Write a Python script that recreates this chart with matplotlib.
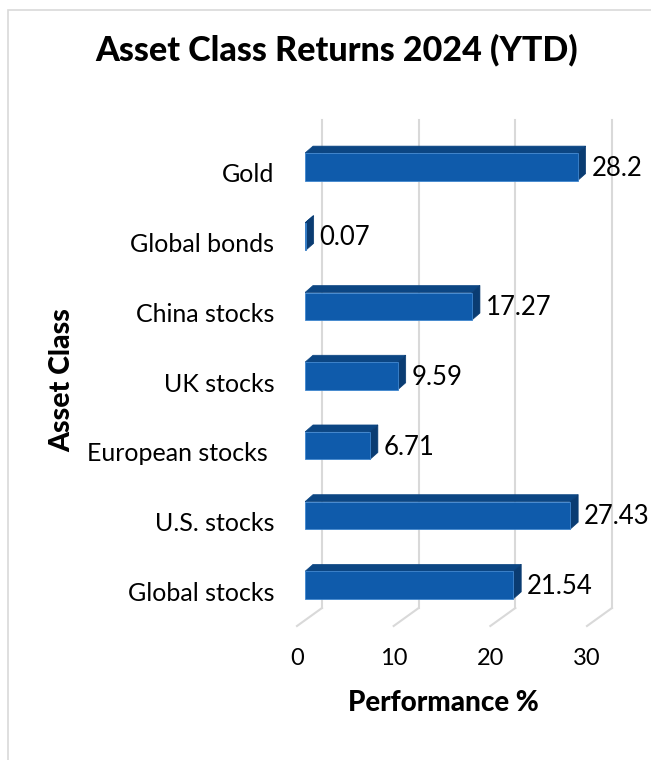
import matplotlib
matplotlib.use("Agg")
import matplotlib.pyplot as plt
from matplotlib import transforms
from matplotlib.patches import Rectangle, Polygon

plt.rcParams['font.family'] = ['Lato', 'DejaVu Sans']

categories = ["Global stocks", "U.S. stocks", "European stocks ", "UK stocks",
              "China stocks", "Global bonds", "Gold"]
returns = [21.54, 27.43, 6.71, 9.59, 17.27, 0.07, 28.2]
value_labels = ["21.54", "27.43", "6.71", "9.59", "17.27", "0.07", "28.2"]
x_ticks = [0, 10, 20, 30]

FRONT = "#0f5bab"
TOP = "#0c4683"
SIDE = "#0a3c72"
GRID = "#d9d9d9"

fig = plt.figure(figsize=(6.51, 7.60), dpi=100)
ax = fig.add_axes([305 / 651, 140 / 760, 290 / 651, 488 / 760])
ax.set_xlim(0, 30)
ax.set_ylim(-0.5, 6.5)
for s in ax.spines.values():
    s.set_visible(False)

# outer chart border
fig.patches.append(Rectangle((8 / 651, -0.05), 1.1, 1 - 10 / 760 + 0.05,
                             transform=fig.transFigure, fill=False,
                             edgecolor=GRID, linewidth=1.2))


def px_to_data(dx, dy):
    p0 = ax.transData.transform((0, 0))
    p1 = ax.transData.inverted().transform((p0[0] + dx, p0[1] + dy))
    return p1[0], p1[1]


back_dx, back_dy = px_to_data(17, 12)
front_dx, front_dy = px_to_data(-8, -6)
depth_dx, depth_dy = px_to_data(8, 7)
bar_h = px_to_data(0, 27.5)[1]

# gridlines on back wall plus floor diagonals
y0, y1 = ax.get_ylim()
for v in x_ticks:
    ax.plot([v + back_dx, v + back_dx], [y0 + back_dy, y1 + back_dy],
            color=GRID, lw=1.5, zorder=1, clip_on=False)
    ax.plot([v + front_dx, v + back_dx], [y0 + front_dy, y0 + back_dy],
            color=GRID, lw=1.5, zorder=1, clip_on=False)

# 3D-look bars
for i, v in enumerate(returns):
    yb = i - bar_h / 2
    yt = i + bar_h / 2
    ax.add_patch(Polygon([(0, yt), (v, yt), (v + depth_dx, yt + depth_dy),
                          (depth_dx, yt + depth_dy)], closed=True,
                         facecolor=TOP, edgecolor=TOP, lw=0.5, zorder=3))
    ax.add_patch(Polygon([(v, yb), (v + depth_dx, yb + depth_dy),
                          (v + depth_dx, yt + depth_dy), (v, yt)], closed=True,
                         facecolor=SIDE, edgecolor=SIDE, lw=0.5, zorder=3))
    ax.add_patch(Rectangle((0, yb), v, bar_h, facecolor=FRONT,
                           edgecolor="#3f86cf", lw=0.6, zorder=4))
    ax.annotate(value_labels[i], (v, i), xytext=(10, -1),
                textcoords="offset points", va="center", ha="left",
                fontsize=18.5, color="black", zorder=5)

ax.set_xticks(x_ticks)
ax.set_xticklabels([str(t) for t in x_ticks], fontsize=17)
ax.set_yticks(range(len(categories)))
ax.set_yticklabels(categories, fontsize=18)
ax.tick_params(axis="both", length=0)
ax.tick_params(axis="x", pad=20)
ax.tick_params(axis="y", pad=22)

shift_x = transforms.ScaledTranslation(-8 / 100, 0, fig.dpi_scale_trans)
for lab in ax.get_xticklabels():
    lab.set_transform(lab.get_transform() + shift_x)
shift_y = transforms.ScaledTranslation(0, -6 / 100, fig.dpi_scale_trans)
for lab in ax.get_yticklabels():
    lab.set_transform(lab.get_transform() + shift_y)

ax.set_xlabel("Performance %", fontsize=20, fontweight="black", labelpad=15)
ax.xaxis.label.set_x((443 - 305) / 290)
fig.text(62 / 651, 1 - 380 / 760, "Asset Class", rotation=90, fontsize=20.5,
         fontweight="black", ha="center", va="center")
fig.text(337 / 651, 1 - 50 / 760, "Asset Class Returns 2024 (YTD)",
         fontsize=24.5, fontweight="black", ha="center", va="center")

fig.savefig("out.png", dpi=100)
